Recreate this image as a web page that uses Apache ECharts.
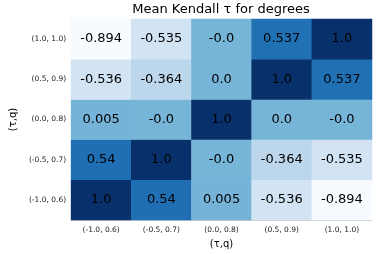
<!DOCTYPE html>
<html><head><meta charset="utf-8">
<script src="https://cdn.jsdelivr.net/npm/echarts@6/dist/echarts.min.js"></script>
<style>html,body{margin:0;padding:0;background:#fff}#c{width:380px;height:254px}</style>
</head><body><div id="c"></div>
<script>
const xCats = ['(-1.0, 0.6)', '(-0.5, 0.7)', '(0.0, 0.8)', '(0.5, 0.9)', '(1.0, 1.0)'];
const yCats = ['(-1.0, 0.6)', '(-0.5, 0.7)', '(0.0, 0.8)', '(0.5, 0.9)', '(1.0, 1.0)'];
// rows listed bottom (y index 0) to top
const row0 = [1.0, 0.54, 0.005, -0.536, -0.894];
const row1 = [0.54, 1.0, -0.0, -0.364, -0.535];
const row2 = [0.005, -0.0, 1.0, 0.0, -0.0];
const row3 = [-0.536, -0.364, 0.0, 1.0, 0.537];
const row4 = [-0.894, -0.535, -0.0, 0.537, 1.0];
const rows = [row0, row1, row2, row3, row4];
const blues = ['#f7fbff','#deebf7','#c6dbef','#9ecae1','#6baed6','#4292c6','#2171b5','#08519c','#08306b'];

function fmt(v){ if (Object.is(v,-0)) return '-0.0'; if (Number.isInteger(v)) return v.toFixed(1); return String(v); }
const data = [];
rows.forEach((r, yi) => r.forEach((v, xi) => data.push([xi, yi, v])));
let mn = Infinity, mx = -Infinity;
data.forEach(d => { mn = Math.min(mn, d[2]); mx = Math.max(mx, d[2]); });

const chart = echarts.init(document.getElementById('c'));
chart.setOption({
  animation: false,
  title: { text: 'Mean Kendall τ for degrees', left: 216, textAlign: 'center', top: -1.5,
    textStyle: { fontFamily: 'DejaVu Sans', fontSize: 13, fontWeight: 'normal', color: '#000' } },
  grid: { left: 60, right: 8, top: 19, bottom: 28 },
  xAxis: { type: 'category', data: xCats, name: '(τ,q)', nameLocation: 'middle', nameGap: 19,
    nameTextStyle: { fontFamily: 'DejaVu Sans', fontSize: 10, color: '#000' },
    axisLine: { show: true, lineStyle: { color: '#ccc' } }, axisTick: { show: false },
    axisLabel: { fontFamily: 'DejaVu Sans', fontSize: 7.5, color: '#222', margin: 6, interval: 0 },
    splitLine: { show: false } },
  yAxis: { type: 'category', data: yCats, name: '(τ,q)', nameLocation: 'middle', nameGap: 53,
    nameTextStyle: { fontFamily: 'DejaVu Sans', fontSize: 10, color: '#000' },
    axisLine: { show: true, lineStyle: { color: '#ccc' } }, axisTick: { show: false },
    axisLabel: { fontFamily: 'DejaVu Sans', fontSize: 7.5, color: '#222', margin: 5, interval: 0 },
    splitLine: { show: false } },
  visualMap: { show: false, min: mn, max: mx, dimension: 2, inRange: { color: blues } },
  series: [{
    type: 'heatmap', data: data,
    label: { show: true, fontFamily: 'DejaVu Sans', fontSize: 13, color: '#000',
      formatter: p => fmt(p.data[2]) },
    itemStyle: { borderWidth: 0 }
  }]
});
</script></body></html>
